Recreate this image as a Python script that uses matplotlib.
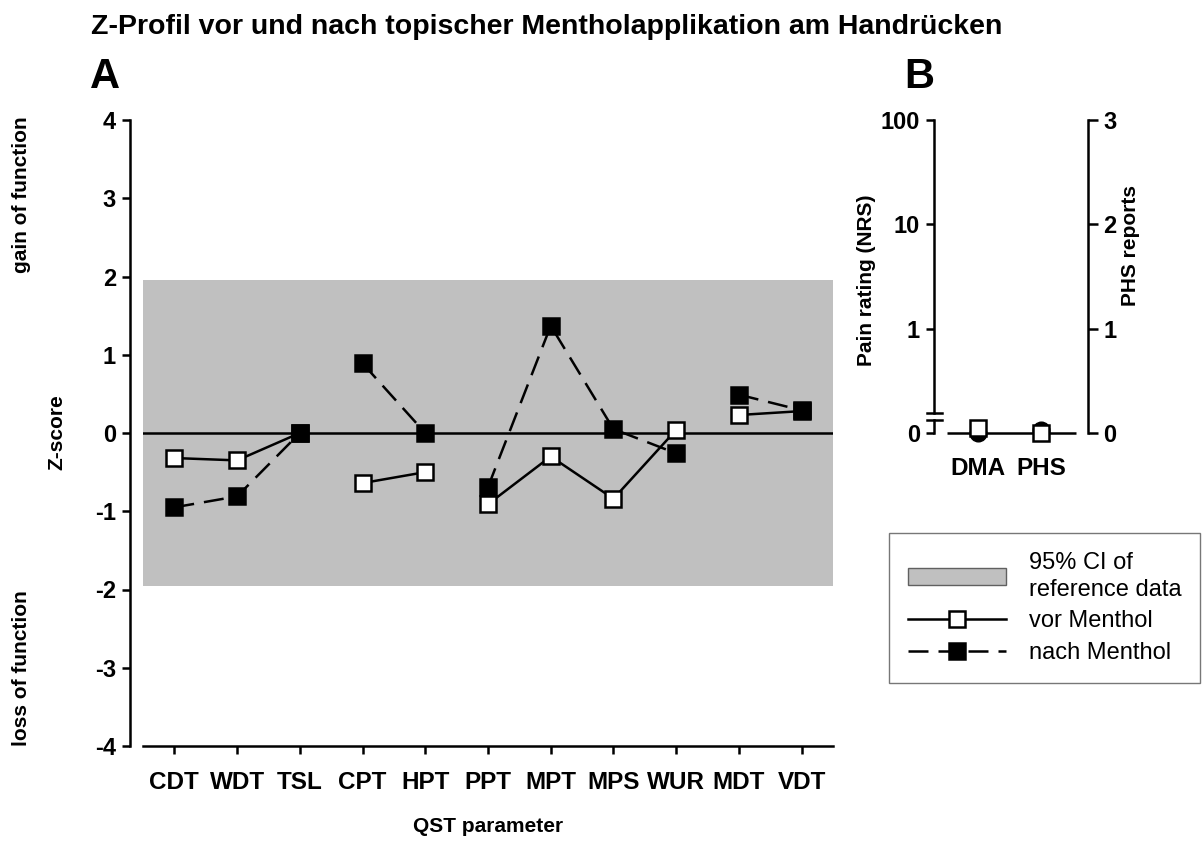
import matplotlib
matplotlib.use('Agg')
import matplotlib.pyplot as plt
from matplotlib.lines import Line2D
from matplotlib.patches import Patch
import numpy as np

plt.rcParams['font.family'] = ['Liberation Sans', 'DejaVu Sans']
plt.rcParams['font.weight'] = 'bold'
plt.rcParams['axes.unicode_minus'] = False

# panel A: QST z-scores
params = ['CDT', 'WDT', 'TSL', 'CPT', 'HPT', 'PPT', 'MPT', 'MPS', 'WUR', 'MDT', 'VDT']
vor = [-0.32, -0.35, 0.0, -0.64, -0.50, -0.91, -0.30, -0.84, 0.04, 0.23, 0.28]
nach = [-0.95, -0.81, 0.0, 0.89, 0.0, -0.69, 1.37, 0.05, -0.26, 0.49, 0.29]
segment = [0, 0, 0, 1, 1, 2, 2, 2, 2, 3, 3]   # connected groups
ci = 1.96

# panel B: DMA / PHS
b_cats = ['DMA', 'PHS']
b_vor = [0.05, 0.0]
b_nach = [0.0, 0.03]
b_left_labels = ['0', '1', '10', '100']
b_right_labels = ['0', '1', '2', '3']

W, H = 1203, 843
fig = plt.figure(figsize=(W / 100, H / 100), dpi=100)


def px(x0, y0, x1, y1):
    return [x0 / W, 1 - y1 / H, (x1 - x0) / W, (y1 - y0) / H]


LW = 1.8
TICK_FS = 17
CAT_FS = 17.5

# ---- panel A ----
axA = fig.add_axes(px(143, 120, 833, 746))
axA.set_xlim(-0.5, len(params) - 0.5)
axA.set_ylim(-4, 4)
axA.axhspan(-ci, ci, color='#c0c0c0', lw=0, zorder=0)
axA.axhline(0, color='black', lw=LW, zorder=1)

x = np.arange(len(params))
for g in sorted(set(segment)):
    idx = [i for i, s in enumerate(segment) if s == g]
    zv, zn = (4, 3) if g == 2 else (3, 4)
    axA.plot(x[idx], [vor[i] for i in idx], '-', color='black', lw=LW,
             marker='s', ms=12, mfc='white', mec='black', mew=LW, zorder=zv)
    axA.plot(x[idx], [nach[i] for i in idx], color='black', lw=LW, dashes=(8, 4),
             marker='s', ms=12, mfc='black', mec='black', mew=LW, zorder=zn)

for s in ['top', 'right']:
    axA.spines[s].set_visible(False)
axA.spines['left'].set_position(('outward', 9.4))
axA.spines['left'].set_linewidth(LW)
axA.spines['bottom'].set_linewidth(LW)
axA.set_yticks(range(-4, 5))
axA.set_xticks(x)
axA.set_xticklabels(params)
axA.tick_params(axis='y', direction='out', length=6, width=LW, labelsize=TICK_FS, pad=4)
axA.tick_params(axis='x', direction='out', length=6, width=LW, labelsize=CAT_FS, pad=12)

fig.text(57 / W, 1 - 432 / H, 'Z-score', rotation=90, ha='center', va='center', fontsize=15)
fig.text(22 / W, 1 - 195 / H, 'gain of function', rotation=90, ha='center', va='center', fontsize=15)
fig.text(22 / W, 1 - 668 / H, 'loss of function', rotation=90, ha='center', va='center', fontsize=15)
fig.text(488 / W, 1 - 827 / H, 'QST parameter', ha='center', va='center', fontsize=15)

fig.text(91 / W, 1 - 27 / H, 'Z-Profil vor und nach topischer Mentholapplikation am Handrücken',
         ha='left', va='center', fontsize=20.5)
fig.text(90 / W, 1 - 77 / H, 'A', ha='left', va='center', fontsize=30)
fig.text(904 / W, 1 - 77 / H, 'B', ha='left', va='center', fontsize=30)

# ---- panel B ----
axB = fig.add_axes(px(934, 120, 1088, 433))
axB.set_xlim(-0.70, 1.746)
axB.set_ylim(0, 3)
xb = np.arange(len(b_cats))
axB.hlines(0, -0.5, 1.55, color='black', lw=LW, clip_on=False, zorder=2)
axB.plot(xb, b_nach, 'o', ms=12, mfc='black', mec='black', clip_on=False, zorder=3)
axB.plot(xb, b_vor, 's', ms=12, mfc='white', mec='black', mew=LW, clip_on=False, zorder=4)

for s in ['top', 'bottom', 'right']:
    axB.spines[s].set_visible(False)
axB.spines['left'].set_linewidth(LW)
axB.spines['left'].set_bounds(0.19, 3)
tr = axB.get_yaxis_transform()
axB.plot([0, 0], [0, 0.125], color='black', lw=LW, transform=tr, clip_on=False)
for yb in (0.19, 0.125):
    axB.plot([-0.045, 0.05], [yb, yb], color='black', lw=LW, transform=tr, clip_on=False)
axB.set_yticks(range(4))
axB.set_yticklabels(b_left_labels)
axB.set_xticks(xb)
axB.set_xticklabels(b_cats)
axB.tick_params(axis='y', direction='out', length=6, width=LW, labelsize=TICK_FS, pad=4)
axB.tick_params(axis='x', length=0, labelsize=CAT_FS, pad=17)

axR = axB.twinx()
axR.set_ylim(0, 3)
for s in ['top', 'bottom', 'left']:
    axR.spines[s].set_visible(False)
axR.spines['right'].set_linewidth(LW)
axR.set_yticks(range(4))
axR.set_yticklabels(b_right_labels)
axR.tick_params(axis='y', direction='out', length=7, width=LW, labelsize=TICK_FS, pad=4)

fig.text(867 / W, 1 - 280 / H, 'Pain rating (NRS)', rotation=90, ha='center', va='center', fontsize=15)
fig.text(1130 / W, 1 - 246 / H, 'PHS reports', rotation=90, ha='center', va='center', fontsize=15)

# ---- legend ----
handles = [
    Patch(facecolor='#c0c0c0', edgecolor='#606060', lw=1),
    Line2D([], [], color='black', lw=LW, marker='s', ms=12, mfc='white', mec='black', mew=LW),
    Line2D([], [], color='black', lw=LW, dashes=(8, 4), marker='s', ms=12, mfc='black', mec='black', mew=LW),
]
labels = ['95% CI of\nreference data', 'vor Menthol', 'nach Menthol']
leg = fig.legend(handles, labels, loc='upper left', bbox_to_anchor=(889 / W, 1 - 533 / H),
                 frameon=True, fancybox=False, edgecolor='#555555',
                 prop={'size': 17, 'weight': 'normal'}, handlelength=4.15, handletextpad=0.97,
                 borderpad=0.8, borderaxespad=0, labelspacing=0.4)
for t in leg.get_texts():
    t.set_linespacing(1.3)
leg.get_frame().set_linewidth(1)

fig.savefig('out.png', dpi=100)
